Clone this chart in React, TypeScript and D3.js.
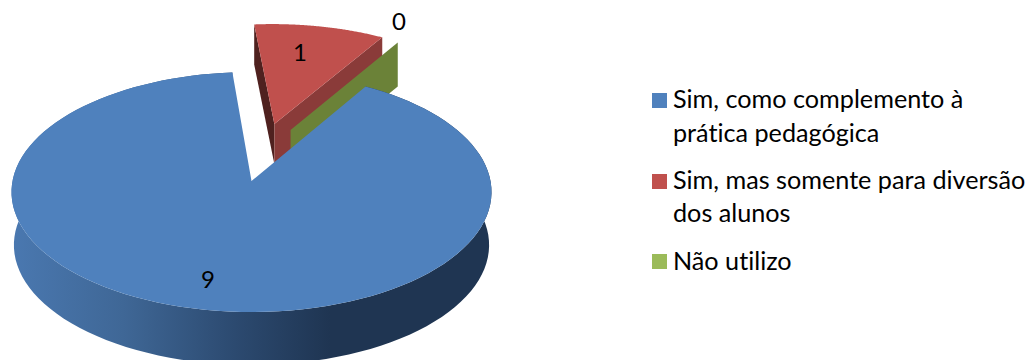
import React from "react";
import * as d3 from "d3";

const categories = ["Sim, como complemento à prática pedagógica", "Sim, mas somente para diversão dos alunos", "Não utilizo"];
const values = [9, 1, 0];
const legendLines = [["Sim, como complemento à", "prática pedagógica"], ["Sim, mas somente para diversão", "dos alunos"], ["Não utilizo"]];

const WIDTH = 1033;
const HEIGHT = 360;
const FONT = "Lato, 'Open Sans', sans-serif";
const deg = Math.PI / 180;

// Perspective of the disc: screen position of a disc point (u right, v towards the viewer).
const ORIGIN = { x: 251.5, y: 181 };
const KX = 239;
const KY = 119;
const TILT = 0.0917;
const project = (u: number, v: number, drop = 0, shrink = 1): [number, number] => {
  const w = 1 - TILT * v;
  return [ORIGIN.x + ((KX * u) / w) * shrink, ORIGIN.y + (KY * v) / w + drop];
};

// Each slice is pulled out of the pie by its own offset and has its own visible wall height.
const explode = [
  { du: 0, dv: 0, depth: 53 },
  { du: 0.1, dv: -0.5, depth: 40 },
  { du: 0.17, dv: -0.445, depth: 44 },
];
const topColors = ["#4f81bd", "#c0504d", "#9bbb59"];
const dataLabelPos = [[208, 288], [300, 61], [399, 30]];

const arcs = d3.pie<number>().sort(null).startAngle(31 * deg).endAngle(391 * deg)(values);
const path = d3.line<[number, number]>();

const rim = (i: number, a: number, drop = 0, shrink = 1) => {
  const e = explode[i];
  return project(e.du + Math.sin(a), e.dv - Math.cos(a), drop, shrink);
};
const apex = (i: number, drop = 0, shrink = 1) => project(explode[i].du, explode[i].dv, drop, shrink);
const rimPoints = (i: number, drop = 0, shrink = 1) => {
  const { startAngle: a0, endAngle: a1 } = arcs[i];
  return d3.range(0, 121).map((k) => rim(i, a0 + ((a1 - a0) * k) / 120, drop, shrink));
};

export default function App() {
  const blueWall = [...rimPoints(0), ...rimPoints(0, explode[0].depth, 0.99).reverse()];
  const d1 = explode[1].depth;
  const d2 = explode[2].depth;
  const redEnd = arcs[1].endAngle;
  const redStart = arcs[1].startAngle;
  const greenA = arcs[2].startAngle;
  return (
    <svg width={WIDTH} height={HEIGHT} style={{ position: "absolute", left: 0, top: 0, background: "#fff", fontVariantLigatures: "none" }}>
      <defs>
        <linearGradient id="blueSide" gradientUnits="userSpaceOnUse" x1={12} x2={330} y1={0} y2={0}>
          <stop offset="0" stopColor="#4a78b0" />
          <stop offset="0.35" stopColor="#3f6796" />
          <stop offset="0.7" stopColor="#2c4a70" />
          <stop offset="1" stopColor="#1f3552" />
        </linearGradient>
      </defs>

      {/* Red slice: cut faces, then top */}
      <path d={path([rim(1, redStart), apex(1), apex(1, d1), rim(1, redStart, d1)]) + "Z"} fill="#4f211f" />
      <path d={path([apex(1), rim(1, redEnd), rim(1, redEnd, d1), apex(1, d1)]) + "Z"} fill="#8a3b39" />
      <path d={path([apex(1), ...rimPoints(1)]) + "Z"} fill={topColors[1]} />

      {/* Green slice has no angle, so only its cut face shows */}
      <path d={path([apex(2), rim(2, greenA), rim(2, greenA, d2), apex(2, d2)]) + "Z"} fill="#6b8238" />

      {/* Blue slice: outer wall, then top */}
      <path d={path(blueWall) + "Z"} fill="url(#blueSide)" />
      <path d={path([apex(0), ...rimPoints(0)]) + "Z"} fill={topColors[0]} />

      {/* Data labels */}
      {values.map((v, i) => (
        <text key={i} x={dataLabelPos[i][0]} y={dataLabelPos[i][1]} textAnchor="middle" fontFamily={FONT} fontSize={24} fill="#000">
          {v}
        </text>
      ))}

      {/* Legend */}
      {categories.map((c, i) => {
        const tops = [93, 174, 254];
        const baselines = [[108, 142], [189, 222], [270]];
        return (
          <g key={c}>
            <rect x={652} y={tops[i]} width={15} height={15} fill={topColors[i]} />
            {legendLines[i].map((line, j) => (
              <text key={line} x={673} y={baselines[i][j]} fontFamily={FONT} fontSize={25.2} fill="#000">
                {line}
              </text>
            ))}
          </g>
        );
      })}
    </svg>
  );
}
